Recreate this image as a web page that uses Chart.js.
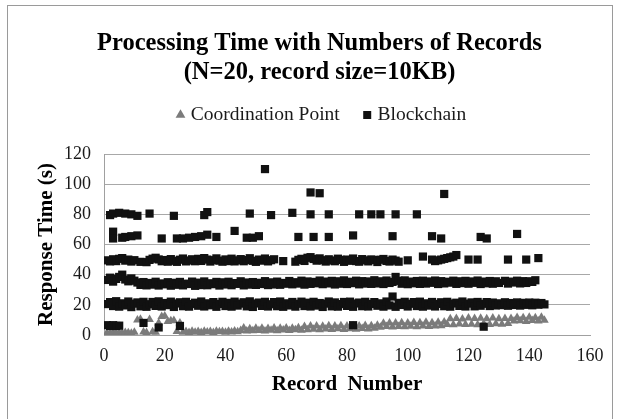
<!DOCTYPE html>
<html>
<head>
<meta charset="utf-8">
<script src="https://cdn.jsdelivr.net/npm/chart.js@4/dist/chart.umd.min.js"></script>
<style>
  html, body { margin: 0; padding: 0; background: #ffffff; }
  #wrap { width: 619px; height: 419px; position: relative; }
</style>
</head>
<body>
<div id="wrap"><canvas id="c" width="619" height="419"></canvas></div>
<script>
// ---------------- DATA ----------------
const titleLines = ['Processing Time with Numbers of Records', '(N=20, record size=10KB)'];
const seriesNames = ['Coordination Point', 'Blockchain'];
const xAxisTitle = 'Record  Number';
const yAxisTitle = 'Response Time (s)';
const xRange = [0, 160];
const xStep = 20;
const yRange = [0, 120];
const yStep = 20;

// Coordination Point response time for record 1..145 (index + 1 = record number)
const coordTimes = [
  1.5, 1.2, 1.8, 1.4, 1.6, 1.3, 1.7, 1.5, 1.2, 1.9,
  10.0, 10.5, 2.0, 1.6, 10.2, 2.2, 1.8, 8.0, 12.2, 12.6,
  9.0, 9.4, 9.6, 2.4, 8.0, 1.8, 2.3, 1.6, 2.5, 1.9,
  2.4, 1.7, 2.5, 2.0, 2.3, 1.6, 2.5, 2.1, 2.4, 1.8,
  2.5, 2.0, 2.6, 2.2, 3.0, 4.6, 2.6, 4.2, 2.8, 4.4,
  3.0, 4.5, 2.7, 4.3, 3.2, 4.6, 2.8, 4.4, 3.3, 4.7,
  3.0, 4.5, 3.4, 4.8, 3.1, 5.6, 3.5, 5.9, 3.8, 6.0,
  3.4, 5.8, 4.0, 6.1, 3.6, 5.9, 4.2, 6.2, 3.7, 6.0,
  4.1, 6.2, 3.8, 6.0, 4.3, 6.3, 3.9, 6.1, 4.4, 6.4,
  5.2, 7.8, 5.6, 8.0, 5.3, 7.9, 5.7, 8.2, 5.4, 8.0,
  5.8, 8.3, 5.5, 8.1, 5.9, 8.4, 5.6, 8.2, 6.0, 8.5,
  6.2, 8.6, 7.0, 10.8, 6.8, 11.0, 7.3, 10.6, 6.9, 11.2,
  7.2, 10.9, 6.8, 11.1, 7.4, 10.7, 7.0, 11.3, 7.5, 10.8,
  7.1, 11.0, 7.6, 10.9, 9.2, 11.6, 9.5, 11.4, 9.0, 11.7,
  9.6, 11.5, 9.3, 11.8, 9.7
];

// Blockchain: the ~20 s band, record 1..145
const chainBand20 = [
  20.5, 21.8, 19.2, 22.4, 18.8, 21.0, 19.6, 22.2, 18.5, 20.8,
  21.6, 19.0, 22.0, 18.7, 20.4, 21.9, 19.3, 22.3, 18.9, 21.2,
  19.8, 22.1, 18.6, 20.9, 21.7, 19.1, 22.0, 18.8, 20.5, 21.4,
  19.4, 22.2, 18.9, 21.0, 19.7, 21.8, 18.7, 20.6, 22.0, 19.2,
  21.3, 18.8, 22.1, 19.5, 20.8, 21.7, 19.0, 22.3, 18.6, 20.9,
  21.5, 19.3, 22.0, 18.9, 20.4, 21.8, 19.1, 22.2, 18.7, 21.0,
  19.6, 21.9, 18.8, 20.7, 22.1, 19.2, 21.4, 18.9, 22.0, 19.5,
  21.2, 18.6, 20.8, 22.2, 19.0, 21.6, 18.8, 20.5, 21.9, 19.3,
  22.1, 18.7, 20.9, 21.5, 19.1, 22.0, 18.9, 20.6, 21.8, 19.4,
  21.0, 18.8, 22.2, 19.6, 25.5, 18.7, 21.3, 19.9, 22.0, 18.9,
  20.7, 21.8, 19.2, 22.1, 18.8, 21.0, 19.5, 21.9, 18.9, 20.6,
  21.7, 19.1, 22.0, 18.8, 20.9, 21.4, 19.3, 22.2, 18.9, 20.8,
  21.6, 19.0, 21.9, 19.4, 20.7, 21.8, 19.2, 21.5, 19.6, 21.0,
  19.8, 21.7, 19.4, 21.2, 19.9, 21.6, 19.5, 21.3, 20.0, 21.5,
  19.7, 21.4, 20.1, 21.2, 20.3
];

// Blockchain: the ~35 s band, record 1..142 (null = no point)
const chainBand35 = [
  36.5, 38.0, 35.4, 37.2, 38.5, 40.0, 36.8, 35.6, 37.5, 36.0,
  34.8, 33.2, 35.1, 32.9, 34.5, 33.4, 35.3, 32.8, 34.2, 33.6,
  35.0, 32.7, 34.6, 33.3, 35.2, 32.9, 34.0, 33.8, 35.4, 32.6,
  34.7, 33.1, 35.5, 33.0, 34.3, 33.7, 35.2, 32.8, 34.9, 33.5,
  35.3, 33.0, 34.4, 33.9, 35.6, 32.9, 34.8, 33.4, 35.1, 33.2,
  34.6, 33.8, 35.7, 33.1, 34.9, 33.5, 35.4, 33.3, 34.5, 34.0,
  35.8, 33.6, 35.0, 34.1, 36.0, 33.4, 35.5, 33.9, 35.2, 34.3,
  36.1, 33.7, 35.4, 34.2, 35.9, 33.5, 35.6, 34.0, 36.2, 33.8,
  35.3, 34.4, 36.0, 33.6, 35.7, 34.1, 35.5, 33.9, 36.3, 34.2,
  35.6, 33.8, 36.1, 34.5, 35.2, 38.5, 35.9, 34.0, 36.2, 33.7,
  35.4, 34.3, 35.8, 33.9, 36.0, 34.1, 35.5, 34.6, 36.1, 33.8,
  35.7, 34.2, 35.3, 34.7, 36.0, 33.9, 35.6, 34.4, 35.9, 34.0,
  35.5, 34.6, 36.1, 33.8, 35.4, 34.3, 35.8, 34.0, 35.6, 34.5,
  null, 35.9, 34.1, 35.4, 34.8, 36.0, 34.2, 35.7, 34.5, 35.6,
  35.2, 36.3
];

// Blockchain: the ~50 s band, record 1..97 (null = no point)
const chainBand48 = [
  49.5, 48.8, 50.2, 49.0, 50.5, 51.0, 49.3, 50.0, 48.7, 49.6,
  null, 48.5, null, 48.3, 49.8, 50.6, 51.2, 50.1, 48.9, 49.7,
  48.6, 50.3, 49.2, 48.5, 49.9, 50.7, 48.8, 49.4, 50.2, 48.9,
  50.5, 49.1, 51.0, 50.0, 48.7, 49.6, 50.8, 49.3, 48.6, 50.1,
  49.0, 50.6, 48.8, 49.5, 50.3, 48.9, 49.7, 50.9, 49.2, 48.5,
  50.0, 49.3, 50.7, 48.8, 49.6, 50.2, null, null, 49.0, null,
  null, null, 48.6, 49.8, 50.5, 49.1, 51.2, 51.6, 50.4, 49.3,
  50.8, 49.6, 48.7, 50.2, 49.4, 48.9, 50.6, 49.8, 48.5, 50.0,
  49.2, 50.7, 49.0, 48.6, 50.3, 49.5, 48.8, 50.1, 49.7, 48.4,
  49.9, 50.4, 49.1, 48.7, 50.0, 49.3, 48.6
];

// Blockchain: scattered individual points (record number, seconds)
const chainOtherX = [
  1, 2, 3, 4, 5, 13, 18, 25, 82, 125,
  100, 105, 108, 109, 110, 111, 112, 113, 114, 115, 116, 120, 123, 133, 139, 143,
  3, 3, 6, 7, 9, 11, 19, 24, 26, 28, 30, 32, 34, 37, 43, 47, 49, 51, 64, 69, 74, 82, 95, 108, 111, 124, 126, 136,
  2, 3, 5, 7, 9, 11, 15, 23, 33, 34, 48, 55, 62, 68, 74, 84, 88, 91, 96, 103,
  53, 68, 71, 112
];
const chainOtherY = [
  6.5, 6.0, 6.5, 6.0, 6.2, 8.0, 5.0, 6.0, 6.5, 5.5,
  49.5, 52.0, 50.0, 49.0, 49.5, 50.0, 50.5, 51.0, 51.5, 52.0, 53.0, 50.0, 50.0, 50.0, 50.0, 51.0,
  68.5, 64.0, 64.5, 65.0, 65.5, 66.0, 64.0, 64.0, 64.0, 64.5, 65.0, 65.5, 66.5, 65.0, 69.0, 64.5, 64.5, 65.5, 65.0, 65.0, 65.0, 66.0, 65.5, 65.5, 64.0, 65.0, 64.0, 67.0,
  79.5, 80.5, 81.0, 80.5, 80.0, 79.0, 80.5, 79.0, 79.5, 81.5, 80.5, 79.5, 81.0, 80.0, 80.0, 80.0, 80.0, 80.0, 80.0, 80.0,
  110.0, 94.5, 94.0, 93.5
];

// ---------------- BUILD ----------------
const serif = "'Liberation Serif', 'Times New Roman', serif";
Chart.defaults.font.family = serif;

const toPoints = (arr) => arr.map((v, i) => ({ x: i + 1, y: v })).filter(p => p.y !== null);
const coordPoints = toPoints(coordTimes);
const chainPoints = [
  ...toPoints(chainBand20),
  ...toPoints(chainBand35),
  ...toPoints(chainBand48),
  ...chainOtherX.map((x, i) => ({ x: x, y: chainOtherY[i] }))
];

const legendFontSize = 19.5;

const placeBoxes = {
  id: 'placeBoxes',
  afterLayout(chart) {
    const t = chart.titleBlock;
    if (t) {
      const dx = 319.5 - (t.left + t.right) / 2;
      t.left += dx; t.right += dx;
    }
    const lg = chart.legend;
    if (lg && lg.lineWidths) {
      const p = lg.options.labels.padding;
      const dy = (115 - p - legendFontSize / 2) - lg.top;
      lg.top += dy; lg.bottom += dy;
      const cur = (lg.left + p + lg.right - lg.lineWidths[0]) / 2;
      const dx = 180 - cur;
      lg.left += dx; lg.right += dx;
    }
  },
  beforeDraw(chart) {
    const ctx = chart.ctx;
    ctx.save();
    ctx.fillStyle = '#ffffff';
    ctx.fillRect(0, 0, chart.width, chart.height);
    ctx.strokeStyle = '#9a9a9a';
    ctx.lineWidth = 1;
    ctx.strokeRect(7.5, 5.5, 605, 430);
    ctx.restore();
  }
};

new Chart(document.getElementById('c'), {
  type: 'scatter',
  data: {
    datasets: [
      {
        label: seriesNames[0],
        data: coordPoints,
        pointStyle: 'triangle',
        pointRadius: 5,
        pointHoverRadius: 5,
        backgroundColor: '#7b7b7b',
        borderColor: '#7b7b7b',
        borderWidth: 0,
        order: 2
      },
      {
        label: seriesNames[1],
        data: chainPoints,
        pointStyle: 'rect',
        pointRadius: 5.8,
        pointHoverRadius: 5.8,
        backgroundColor: '#111111',
        borderColor: '#111111',
        borderWidth: 0,
        order: 1
      }
    ]
  },
  options: {
    responsive: false,
    animation: false,
    devicePixelRatio: 1,
    layout: { padding: { top: 0, left: 0, right: 29, bottom: 0 } },
    plugins: {
      tooltip: { enabled: false },
      title: {
        display: true,
        text: titleLines,
        color: '#000000',
        font: { family: serif, size: 24.5, weight: 'bold', lineHeight: '29px' },
        padding: { top: 29.5, bottom: 10 }
      },
      legend: {
        display: true,
        position: 'top',
        labels: {
          usePointStyle: true,
          boxWidth: 1,
          boxHeight: 8,
          padding: 27,
          color: '#1a1a1a',
          font: { family: serif, size: legendFontSize },
          sort: (a, b) => a.datasetIndex - b.datasetIndex
        }
      }
    },
    scales: {
      x: {
        type: 'linear',
        min: xRange[0],
        max: xRange[1],
        afterFit(scale) { scale.height = 84; },
        ticks: { stepSize: xStep, color: '#1a1a1a', font: { family: serif, size: 18 }, padding: 10, maxRotation: 0 },
        grid: { display: true, drawOnChartArea: false, drawTicks: false },
        border: { display: true, color: '#a0a0a0', width: 1 },
        title: {
          display: true,
          text: xAxisTitle,
          color: '#000000',
          font: { family: serif, size: 21, weight: 'bold' },
          padding: { top: 0, bottom: 22 }
        }
      },
      y: {
        type: 'linear',
        min: yRange[0],
        max: yRange[1],
        afterFit(scale) { scale.width = 104; },
        ticks: { stepSize: yStep, color: '#1a1a1a', font: { family: serif, size: 18 }, padding: 13 },
        grid: { color: '#a8a8a8', lineWidth: 1, drawTicks: false },
        border: { display: true, color: '#a0a0a0', width: 1 },
        title: {
          display: true,
          text: yAxisTitle,
          color: '#000000',
          font: { family: serif, size: 21, weight: 'bold' },
          padding: { top: 34, bottom: 0 }
        }
      }
    }
  },
  plugins: [placeBoxes]
});
</script>
</body>
</html>
